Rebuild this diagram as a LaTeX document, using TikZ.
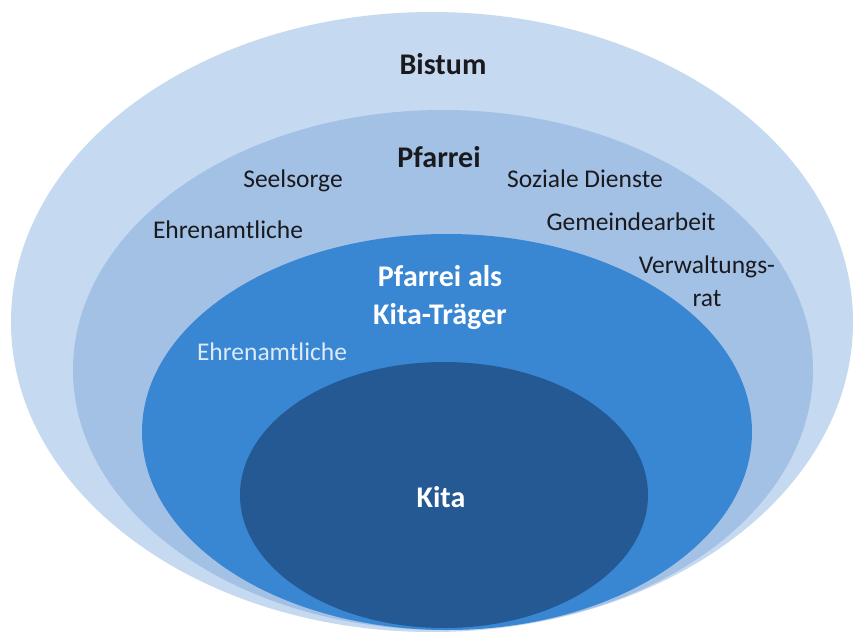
\documentclass[tikz,border=0pt]{standalone}
\usepackage{fontspec}
\setmainfont{Carlito}
\definecolor{cOuter}{RGB}{197,218,240}
\definecolor{cPfarrei}{RGB}{162,193,229}
\definecolor{cTraeger}{RGB}{57,134,211}
\definecolor{cKita}{RGB}{36,89,148}
\definecolor{cText}{RGB}{26,26,30}
\definecolor{cWhiteText}{RGB}{222,234,248}
\begin{document}
\begin{tikzpicture}[x=1pt,y=-1pt,
  ring/.style={draw=none},
  title/.style={font=\fontsize{30}{32}\selectfont\bfseries, text=cText, inner sep=0pt, align=center},
  wtitle/.style={font=\fontsize{30}{38}\selectfont\bfseries, text=white, inner sep=0pt, align=center},
  item/.style={font=\fontsize{25.5}{32}\selectfont, text=cText, inner sep=0pt, align=center},
  witem/.style={font=\fontsize{25.5}{32}\selectfont, text=cWhiteText, inner sep=0pt}]
\useasboundingbox (0,0) rectangle (857,632);
\fill[white] (0,0) rectangle (857,632);
\begin{scope}
\clip (0,0) rectangle (857,632);
\fill[cOuter] (432,322) ellipse [x radius=421, y radius=310];
\fill[cPfarrei] (443,370) ellipse [x radius=370, y radius=260];
\fill[cTraeger] (447,432) ellipse [x radius=305, y radius=198];
\fill[cKita] (444,495) ellipse [x radius=204, y radius=133];
\end{scope}
\node[title] (bistum) at (443,64) {Bistum};
\node[title] (pfarrei) at (439,157) {Pfarrei};
\node[item] (seelsorge) at (293,181) {Seelsorge};
\node[item] (soziale) at (585,179) {Soziale Dienste};
\node[item] (ehren1) at (228,230) {Ehrenamtliche};
\node[item] (gemeinde) at (631,222) {Gemeindearbeit};
\node[item] (verw) at (707,281) {Verwaltungs-\\[1pt]rat};
\node[wtitle] (traeger) at (440,298) {Pfarrei als\\Kita-Träger};
\node[witem] (ehren2) at (272,352) {Ehrenamtliche};
\node[wtitle] (kita) at (441,497) {Kita};
\end{tikzpicture}
\end{document}
